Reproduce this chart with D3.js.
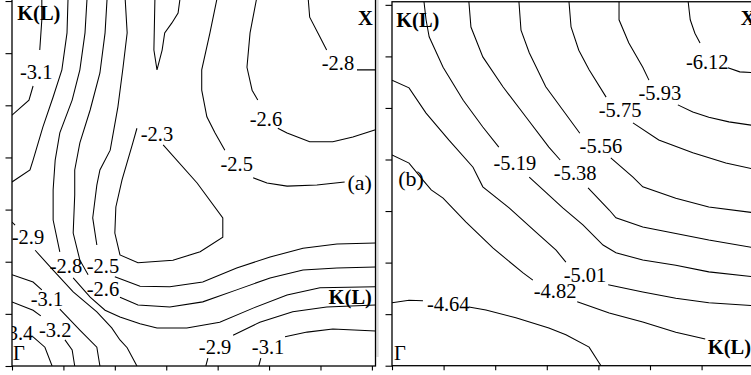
<!DOCTYPE html>
<html><head><meta charset="utf-8">
<script src="https://cdn.jsdelivr.net/npm/d3@7"></script>
<style>body{margin:0;background:#fff}svg{display:block}</style>
</head><body>
<svg id="c" width="751" height="375"></svg>
<script>
// ---------- Tick positions (unlabelled, k-space grid units) ----------
const tickValues = [0, 1, 2, 3, 4, 5, 6, 7];

// ---------- Panel (a): contour pieces per level, in grid units [x, y] ----------
const aLevelM23 = [
  [[2.78,7.06],[2.76,6.06],[2.82,5.68],[2.92,6.06],[2.97,6.39],[3.11,6.58],[3.23,6.77],[3.27,7.06]],
  [[2.94,4.24],[3.60,3.51],[4.10,2.84],[4.10,2.47],[3.66,2.19],[3.13,2.03],[2.45,1.98],[2.10,2.13],[2.00,2.55],[2.02,3.05],[2.14,3.57],[2.35,4.28],[2.43,4.56]]
];
const aLevelM25 = [
  [[2.20,7.06],[2.24,6.39],[2.16,5.73],[2.06,4.97],[1.91,4.14],[1.71,3.76],[1.65,3.47],[1.57,2.84],[1.65,2.32]],
  [[2.00,1.71],[2.49,1.53],[3.07,1.52],[3.71,1.61],[4.37,1.88],[5.02,2.09],[5.66,2.26],[6.32,2.34],[7.07,2.36]],
  [[3.99,7.06],[3.85,6.39],[3.69,5.68],[3.69,5.29],[3.79,4.78],[3.95,4.47],[4.14,4.14]],
  [[4.69,3.61],[4.96,3.51],[5.35,3.45],[5.93,3.47],[6.47,3.53]]
];
const aLevelM26 = [
  [[1.85,7.06],[1.81,6.39],[1.71,5.62],[1.52,4.91],[1.32,4.28],[1.22,3.76],[1.22,3.28],[1.19,2.55],[1.32,2.03],[1.48,1.75]],
  [[2.10,1.32],[2.45,1.17],[3.07,1.13],[3.71,1.23],[4.37,1.46],[5.02,1.69],[5.66,1.84],[6.32,1.88],[7.07,1.90]],
  [[4.76,7.06],[4.63,6.39],[4.57,5.73],[4.67,5.29],[4.78,5.10]],
  [[5.17,4.56],[5.35,4.47],[5.79,4.30],[6.24,4.30],[6.63,4.39],[7.07,4.53]]
];
const aLevelM28 = [
  [[1.46,7.06],[1.42,6.39],[1.32,5.68],[1.17,5.10],[0.93,4.47],[0.84,3.95],[0.80,3.38],[0.80,2.80],[0.93,2.19]],
  [[1.19,1.69],[1.52,1.32],[1.81,1.07],[2.10,0.94],[2.49,0.81],[2.82,0.73],[3.40,0.73],[4.04,0.84],[4.69,1.11],[5.35,1.36],[5.99,1.50],[7.07,1.52]],
  [[5.76,7.06],[5.79,6.69],[5.99,6.31],[6.12,6.06]],
  [[6.71,5.68],[7.07,5.68]]
];
const aLevelM29 = [
  [[1.09,7.06],[1.07,6.39],[0.97,5.68],[0.80,5.16],[0.60,4.58],[0.41,3.95],[0.35,3.76],[0,3.53]],
  [[0,2.76],[0.06,2.70]],
  [[0.45,2.22],[0.80,1.84],[1.19,1.42],[1.65,1.04],[1.94,0.73],[2.10,0.50],[2.24,0.35],[2.43,0]],
  [[3.77,0],[3.81,0.15]],
  [[4.30,0.59],[4.82,0.84],[5.46,1.04],[6.12,1.13],[7.07,1.17]]
];
const aLevelM31 = [
  [[0.58,7.06],[0.58,6.64],[0.54,6.06]],
  [[0.41,5.37],[0.33,5.10],[0.16,4.95],[0,4.81]],
  [[0,1.75],[0.41,1.61],[0.58,1.46]],
  [[0.93,1.09],[1.32,0.69],[1.65,0.36],[1.71,0]],
  [[4.80,0],[4.84,0.15]],
  [[5.31,0.56],[5.74,0.65],[6.24,0.71],[7.07,0.67]]
];
const aLevelM32 = [
  [[0,1.23],[0.41,1.07],[0.56,0.96]],
  [[1.03,0.50],[1.17,0.31],[1.22,0]]
];
const aLevelM34 = [
  [[0.41,0.56],[0.64,0.36],[0.78,0]]
];
// contour value labels: [text, x, y]
const aValueLabels = [
  ["-3.1",0.47,5.64],["-2.3",2.82,4.45],["-2.6",4.94,4.74],["-2.8",6.34,5.81],
  ["-2.5",4.37,3.87],["-2.9",0.31,2.47],["-2.8",1.05,1.92],["-2.5",1.77,1.92],
  ["-2.6",1.77,1.48],["-3.1",0.68,1.28],["-3.2",0.84,0.69],["-3.4",0.10,0.63],
  ["-2.9",3.95,0.37],["-3.1",4.98,0.37]
];
// symmetry point labels: [text, x, y, bold, anchor]
const aPointLabels = [
  ["K(L)",0.10,6.64,true,"start"],["X",6.73,6.54,true,"start"],
  ["(a)",7.0,3.38,false,"end"],["K(L)",7.0,1.19,true,"end"],["Γ",0.02,0.12,false,"start"]
];

// ---------- Panel (b) ----------
const bLevelM612 = [
  [[5.74,7.06],[5.78,6.71],[5.87,6.45],[5.97,6.26]],
  [[6.51,5.78],[6.74,5.70],[7.07,5.68]]
];
const bLevelM593 = [
  [[4.40,7.06],[4.40,6.71],[4.59,6.26],[4.86,5.79],[4.98,5.54]],
  [[5.54,5.06],[5.83,4.92],[6.14,4.82],[6.53,4.73],[7.07,4.65]]
];
const bLevelM575 = [
  [[3.43,7.06],[3.47,6.57],[3.62,6.12],[3.82,5.74],[4.15,5.21]],
  [[4.67,4.71],[5.17,4.38],[5.83,4.13],[6.47,3.93],[7.07,3.80]]
];
const bLevelM556 = [
  [[2.46,7.06],[2.50,6.51],[2.66,6.07],[2.98,5.41],[3.31,4.96],[3.64,4.51]],
  [[4.24,4.03],[4.67,3.66],[4.86,3.47],[5.50,3.25],[6.14,3.08],[7.07,2.96]]
];
const bLevelM538 = [
  [[1.49,7.06],[1.53,6.57],[1.76,5.99],[2.15,5.41],[2.60,4.82],[3.04,4.24],[3.26,3.99]],
  [[3.80,3.45],[4.21,3.02],[4.34,2.87],[4.86,2.69],[6.14,2.44],[7.07,2.28]]
];
const bLevelM519 = [
  [[0.62,7.06],[0.66,6.71],[0.72,6.38],[0.99,5.79],[1.38,5.15],[1.76,4.63],[2.07,4.24]],
  [[2.66,3.66],[2.93,3.41],[3.31,3.06],[3.70,2.73],[4.09,2.34],[4.34,2.19],[4.86,2.05],[5.50,1.95],[6.14,1.82],[7.07,1.72]]
];
const bLevelM501 = [
  [[0,5.54],[0.33,5.39],[0.66,4.90],[1.10,4.38],[1.57,3.85],[1.76,3.47],[2.27,3.06],[2.79,2.59],[3.18,2.24],[3.37,2.01]],
  [[4.19,1.57],[4.86,1.43],[5.50,1.31],[6.14,1.22],[7.07,1.16]]
];
const bLevelM482 = [
  [[0,4.09],[0.33,3.93],[0.60,3.60],[0.76,3.41],[0.99,3.25],[1.43,2.79],[1.96,2.28],[2.54,1.80],[2.73,1.66]],
  [[3.59,1.24],[4.21,1.02],[4.86,0.85],[5.50,0.65],[6.07,0.52]]
];
const bLevelM464 = [
  [[0,1.22],[0.33,1.27],[0.60,1.26]],
  [[1.49,1.14],[1.82,1.08],[2.40,0.93],[3.04,0.73],[3.37,0.60],[3.82,0.36],[4.05,0]]
];
const bValueLabels = [
  ["-6.12",6.11,5.90],["-5.93",5.19,5.29],["-5.75",4.42,4.96],["-5.56",4.05,4.26],
  ["-5.38",3.55,3.74],["-5.19",2.38,3.93],["-5.01",3.74,1.76],["-4.82",3.16,1.45],
  ["-4.64",1.09,1.20]
];
const bPointLabels = [
  ["K(L)",0.08,6.57,true,"start"],["X",6.76,6.61,true,"start"],
  ["(b)",0.12,3.49,false,"start"],["K(L)",6.12,0.23,true,"start"],["Γ",0.04,0.11,false,"start"]
];

// ---------- drawing ----------
const svg = d3.select("#c");
const FONT = "'Liberation Serif','Times New Roman',serif";

function drawPanel(id, x, y, levels, valueLabels, pointLabels) {
  const g = svg.append("g");
  const x0 = x(0), x1 = x(7.07), yTop = y(7.06), yBot = y(0);
  svg.append("clipPath").attr("id", "clip" + id)
    .append("rect").attr("x", x0).attr("y", yTop).attr("width", x1 - x0).attr("height", yBot - yTop);

  const line = d3.line().x(d => x(d[0])).y(d => y(d[1]));
  const lines = g.append("g").attr("clip-path", `url(#clip${id})`);
  levels.forEach(pieces => {
    lines.selectAll(null).data(pieces).enter().append("path")
      .attr("d", line).attr("fill", "none").attr("stroke", "#000").attr("stroke-width", 1.05);
  });

  lines.selectAll(null).data(valueLabels).enter().append("text")
    .attr("x", d => x(d[1])).attr("y", d => y(d[2])).attr("dy", "0.35em")
    .attr("text-anchor", "middle").attr("font-family", FONT).attr("font-size", 20.5)
    .attr("fill", "#000").text(d => d[0]);

  g.selectAll(null).data(pointLabels).enter().append("text")
    .attr("x", d => x(d[1])).attr("y", d => y(d[2]))
    .attr("text-anchor", d => d[4]).attr("font-family", FONT)
    .attr("font-weight", d => d[3] ? "bold" : "normal")
    .attr("font-size", d => d[0].startsWith("(") ? 22 : 20.5)
    .attr("fill", "#000").text(d => d[0]);

  // frame
  g.append("rect").attr("x", x0).attr("y", yTop).attr("width", x1 - x0).attr("height", yBot - yTop)
    .attr("fill", "none").attr("stroke", "#000").attr("stroke-width", 1.3);

  // ticks
  const ax = g.append("g").attr("transform", `translate(0,${yBot})`)
    .call(d3.axisBottom(x).tickValues(tickValues).tickSize(4.5).tickSizeOuter(0).tickFormat(""));
  const ay = g.append("g").attr("transform", `translate(${x0},0)`)
    .call(d3.axisLeft(y).tickValues(tickValues).tickSize(6.5).tickSizeOuter(0).tickFormat(""));
  [ax, ay].forEach(a => {
    a.select(".domain").remove();
    a.selectAll("line").attr("stroke", "#000").attr("stroke-width", 1.1);
  });
}

const xA = d3.scaleLinear().domain([0, 7.07]).range([12, 375.5]);
const yA = d3.scaleLinear().domain([0, 7.06]).range([366, -2.1]);
const xB = d3.scaleLinear().domain([0, 7.07]).range([392, 756.8]);
const yB = d3.scaleLinear().domain([0, 7.06]).range([365.7, 1.75]);

// faint separator strip between the panels
svg.append("rect").attr("x", 376.3).attr("y", 0).attr("width", 2.4).attr("height", 357).attr("fill", "#dcdcdc");

drawPanel("A", xA, yA,
  [aLevelM23, aLevelM25, aLevelM26, aLevelM28, aLevelM29, aLevelM31, aLevelM32, aLevelM34],
  aValueLabels, aPointLabels);
drawPanel("B", xB, yB,
  [bLevelM612, bLevelM593, bLevelM575, bLevelM556, bLevelM538, bLevelM519, bLevelM501, bLevelM482, bLevelM464],
  bValueLabels, bPointLabels);
</script>
</body></html>
